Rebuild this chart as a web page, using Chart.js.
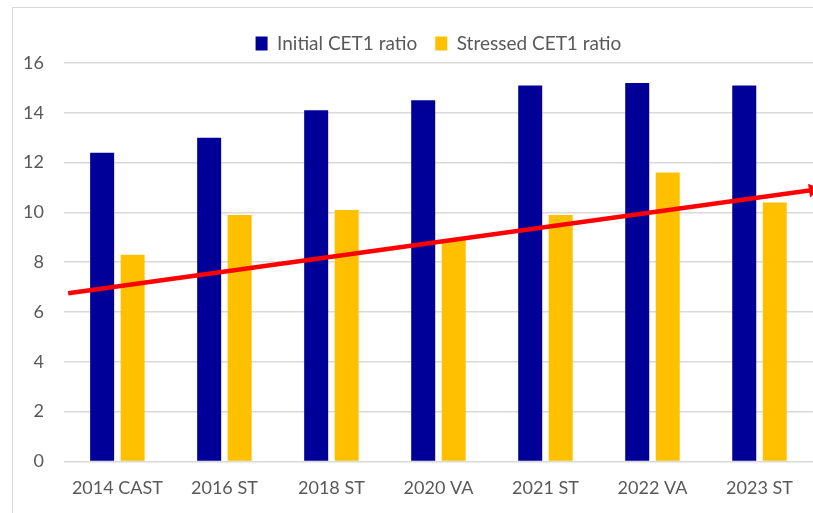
<!DOCTYPE html>
<html>
<head>
<meta charset="utf-8">
<script src="https://cdn.jsdelivr.net/npm/chart.js@4"></script>
<style>
  html, body { margin: 0; padding: 0; background: #fff; }
  #wrap { position: absolute; left: 0; top: 0; width: 813px; height: 513px; }
  #frame { position: absolute; left: 12px; top: 7px; right: -2px; bottom: -2px;
           border-left: 1px solid #d9d9d9; border-top: 1px solid #d9d9d9; pointer-events: none; }
</style>
</head>
<body>
<div id="wrap">
  <canvas id="chart" width="813" height="513"></canvas>
  <div id="frame"></div>
</div>
<script>
const categories = ["2014 CAST", "2016 ST", "2018 ST", "2020 VA", "2021 ST", "2022 VA", "2023 ST"];
const initialCet1 = [12.4, 13.0, 14.1, 14.5, 15.1, 15.2, 15.1];
const stressedCet1 = [8.3, 9.9, 10.1, 8.9, 9.9, 11.6, 10.4];
// red trend arrow, positions in category index units
const trendX = [-0.46, 6.5];
const trendY = [6.75, 10.9];
const yTicks = [0, 2, 4, 6, 8, 10, 12, 14, 16];

const grey = "#595959";
const tickFont = { family: "Lato, 'Open Sans', sans-serif", size: 18 };
const legendFont = { family: "Lato, 'Open Sans', sans-serif", size: 19 };

// bars and trend share one linear x axis, index = category position
const toPoints = arr => arr.map((v, i) => ({ x: i, y: v }));
// stop axes from pushing the plot area in for overhanging labels
const noOverhang = axis => { axis.paddingLeft = 0; axis.paddingRight = 0; axis.paddingTop = 0; axis.paddingBottom = 0; };

new Chart(document.getElementById("chart"), {
  type: "bar",
  data: {
    datasets: [
      {
        label: "Initial CET1 ratio",
        data: toPoints(initialCet1),
        backgroundColor: "#000099",
        categoryPercentage: 0.57,
        barPercentage: 0.787,
        order: 2
      },
      {
        label: "Stressed CET1 ratio",
        data: toPoints(stressedCet1),
        backgroundColor: "#FFC000",
        categoryPercentage: 0.57,
        barPercentage: 0.787,
        order: 2
      },
      {
        type: "line",
        label: "trend",
        data: trendX.map((x, i) => ({ x: x, y: trendY[i] })),
        borderColor: "#FF0000",
        backgroundColor: "#FF0000",
        borderWidth: 4.5,
        // arrow head at the right end, cut off by the plot edge
        pointStyle: "triangle",
        pointRadius: [0, 8],
        pointBorderWidth: 0,
        pointRotation: 82,
        fill: false,
        order: 1
      }
    ]
  },
  options: {
    responsive: false,
    animation: false,
    layout: { autoPadding: false, padding: { left: 3, right: 0, top: 16, bottom: -2 } },
    plugins: {
      legend: {
        position: "top",
        fullSize: false,
        labels: {
          color: grey,
          font: legendFont,
          boxWidth: 12,
          boxHeight: 14,
          padding: 18,
          filter: item => item.text !== "trend"
        }
      },
      tooltip: { enabled: false }
    },
    scales: {
      x: {
        type: "linear",
        min: -0.5,
        max: 6.5,
        offset: false,
        afterBuildTicks: axis => { axis.ticks = categories.map((c, i) => ({ value: i })); },
        afterFit: noOverhang,
        grid: { display: false, drawTicks: false },
        border: { display: false },
        ticks: {
          color: grey,
          font: tickFont,
          padding: 16,
          maxRotation: 0,
          autoSkip: false,
          callback: v => categories[v]
        }
      },
      y: {
        min: 0,
        max: 16,
        afterBuildTicks: axis => { axis.ticks = yTicks.map(v => ({ value: v })); },
        afterFit: noOverhang,
        grid: { color: "#d9d9d9", lineWidth: 1.5, drawTicks: false },
        border: { display: false },
        ticks: { color: grey, font: tickFont, padding: 20 }
      }
    }
  }
});
</script>
</body>
</html>
